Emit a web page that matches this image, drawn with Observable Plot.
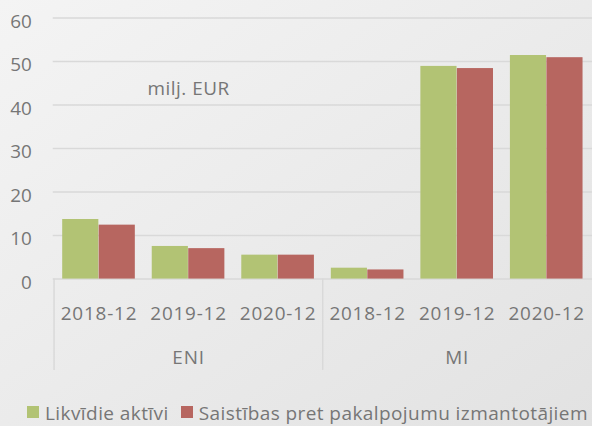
<!DOCTYPE html>
<html>
<head>
<meta charset="utf-8">
<script src="https://cdn.jsdelivr.net/npm/d3@7"></script>
<script src="https://cdn.jsdelivr.net/npm/@observablehq/plot@0.6"></script>
<style>
html, body { margin: 0; padding: 0; width: 592px; height: 426px; overflow: hidden; }
body { background: linear-gradient(to bottom right, #f4f4f4, #e2e2e2); font-family: "Open Sans", sans-serif; position: relative; }
#chart { position: absolute; left: 0; top: 0; }
#chart .xlab text, #chart .glab text { letter-spacing: 0.8px; }
#chart .unit text { letter-spacing: 0.5px; }
#legend { position: absolute; left: 27px; top: 402px; height: 22px; line-height: 22px; font-size: 19px; color: #767676; white-space: nowrap; letter-spacing: 0.42px; }
#legend .item { display: inline-block; margin-right: 12px; }
#legend .sw { display: inline-block; width: 12px; height: 12px; margin-right: 6px; margin-bottom: 2px; vertical-align: baseline; }
</style>
</head>
<body>
<div id="chart"></div>
<div id="legend"></div>
<script>
// ---- data ----
const groups = ["ENI", "MI"];
const periods = ["2018-12", "2019-12", "2020-12"];
const series = ["Likvīdie aktīvi", "Saistības pret pakalpojumu izmantotājiem"];
const liquidAssets = [13.7, 7.5, 5.5, 2.5, 48.9, 51.4];
const liabilities = [12.4, 7.0, 5.5, 2.1, 48.4, 50.9];
const yTicks = [0, 10, 20, 30, 40, 50, 60];
const unitLabel = "milj. EUR";
const colors = ["#b2c374", "#b76660"];

// ---- build table ----
const rows = [];
groups.forEach(g => periods.forEach(p => rows.push({group: g, period: p, key: g + "|" + p})));
rows.forEach((r, i) => { r.liquid = liquidAssets[i]; r.liab = liabilities[i]; });
const keys = rows.map(r => r.key);
const groupMid = groups.map(g => ({group: g, key: g + "|" + periods[1]}));
const groupStart = groups.map(g => g + "|" + periods[0]);

const textColor = "#767676";
const gridColor = "#d9d9d9";
const half = (595 - 53) / 6 / 2;

const chart = Plot.plot({
  width: 595,
  height: 400,
  marginLeft: 53,
  marginRight: 0,
  marginTop: 17.7,
  marginBottom: 120,
  style: {background: "transparent", fontFamily: "Open Sans, sans-serif", fontSize: "19px", color: textColor, overflow: "visible"},
  x: {domain: keys, padding: 0, axis: null},
  y: {domain: [0, 60], axis: null},
  marks: [
    Plot.ruleY(yTicks, {y: d => d, stroke: gridColor, strokeWidth: 1.5}),
    Plot.text(yTicks, {y: d => d, text: d => String(d), frameAnchor: "left", textAnchor: "end", dx: -21.5, dy: 3.5, fill: textColor, fontSize: 19}),
    Plot.barY(rows, {x: "key", y: "liquid", fill: colors[0], insetLeft: 8.5, insetRight: half}),
    Plot.barY(rows, {x: "key", y: "liab", fill: colors[1], insetLeft: half, insetRight: 8.5}),
    Plot.ruleX(groupStart, {x: d => d, dx: -half, y1: 0, y2: -21, stroke: gridColor, strokeWidth: 1.5}),
    Plot.text(rows, {x: "key", text: "period", frameAnchor: "bottom", lineAnchor: "top", dy: 27.7, fill: textColor, fontSize: 19, className: "xlab"}),
    Plot.text(groupMid, {x: "key", text: "group", frameAnchor: "bottom", lineAnchor: "top", dy: 72, fill: textColor, fontSize: 19, className: "glab"}),
    Plot.text([unitLabel], {x: () => keys[1], text: d => d, frameAnchor: "top", dy: 64, fill: textColor, fontSize: 19, className: "unit"})
  ]
});
document.getElementById("chart").appendChild(chart);

// ---- legend ----
const legend = document.getElementById("legend");
series.forEach((s, i) => {
  const item = document.createElement("span");
  item.className = "item";
  const sw = document.createElement("span");
  sw.className = "sw";
  sw.style.background = colors[i];
  item.appendChild(sw);
  item.appendChild(document.createTextNode(s));
  legend.appendChild(item);
});
</script>
</body>
</html>
